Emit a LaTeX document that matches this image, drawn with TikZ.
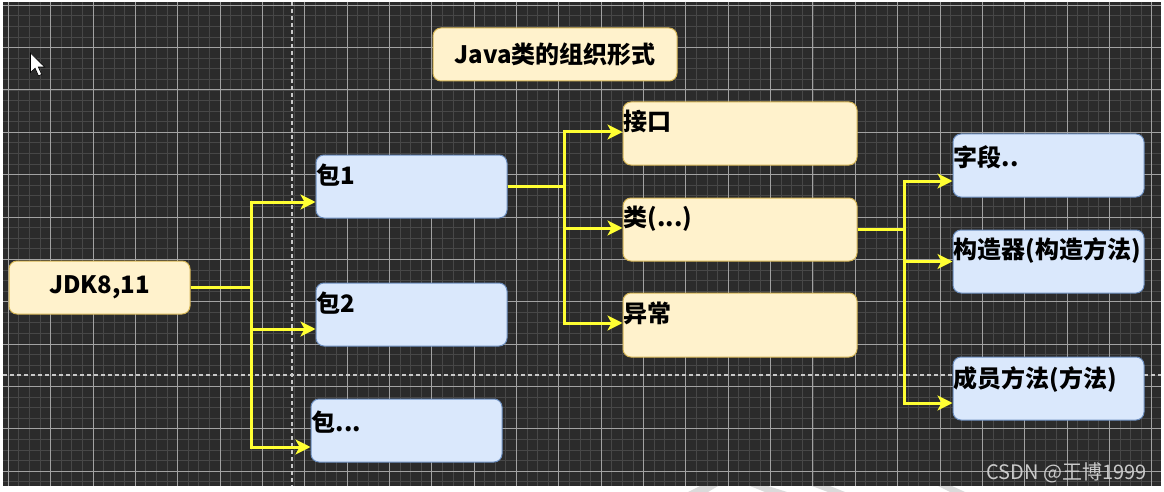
\documentclass[tikz,border=0pt]{standalone}
\usepackage{fontspec}
\setmainfont{Noto Sans CJK SC}
\usetikzlibrary{arrows.meta,calc}
\definecolor{bgc}{HTML}{2B2B2B}
\definecolor{minorc}{HTML}{474747}
\definecolor{majorc}{HTML}{A2A2A2}
\definecolor{dashc}{HTML}{C8C8C8}
\definecolor{yfill}{HTML}{FFF2CC}
\definecolor{ydraw}{HTML}{D6B656}
\definecolor{bfill}{HTML}{DAE8FC}
\definecolor{bdraw}{HTML}{6C8EBF}
\definecolor{connc}{HTML}{FFFF33}
\definecolor{wmc}{HTML}{CACACA}
\definecolor{wedgec}{HTML}{DADADA}
\begin{document}
\begin{tikzpicture}[x=1pt,y=-1pt,
  ybox/.style={draw=ydraw, fill=yfill, rounded corners=8pt, line width=1pt, inner sep=0pt},
  bbox/.style={draw=bdraw, fill=bfill, rounded corners=8pt, line width=1pt, inner sep=0pt},
  lbl/.style={anchor=west, inner sep=0pt, text=black, font=\fontsize{24pt}{28pt}\selectfont\bfseries},
  ctext/.style={inner sep=0pt, text=black, font=\fontsize{24pt}{28pt}\selectfont\bfseries},
  arr/.style={draw=connc, line width=3pt, line join=miter, -{Stealth[length=15pt,width=15pt,inset=4pt]}},
  minorl/.style={draw=minorc, line width=0.9pt},
  majorl/.style={draw=majorc, line width=1pt},
  dashl/.style={draw=dashc, line width=1.5pt, dash pattern=on 4pt off 3pt}
]
\useasboundingbox (0,0) rectangle (1164,492);
\fill[white] (0,0) rectangle (1164,492);
\fill[bgc] (3,2) rectangle (1161,486);
\begin{scope}
\clip (3,2) rectangle (1161,486);
\foreach \k [evaluate=\k as \xx using 8.3+\k*10.5875] in {0,...,109}
  \draw[minorl] (\xx,2) -- (\xx,486);
\foreach \k [evaluate=\k as \yy using 5.3+\k*10.5875] in {0,...,45}
  \draw[minorl] (3,\yy) -- (1161,\yy);
\foreach \k [evaluate=\k as \xx using 8.3+\k*42.35] in {0,...,27}
  \draw[majorl] (\xx,2) -- (\xx,486);
\foreach \k [evaluate=\k as \yy using 5.3+\k*42.35] in {0,...,11}
  \draw[majorl] (3,\yy) -- (1161,\yy);
\draw[dashl] (292,2) -- (292,486);
\draw[dashl] (3,375) -- (1161,375);
\end{scope}

% bottom wedges
\fill[wedgec] (700,486) -- (718,486) -- (708,492) -- (688,492) -- cycle;
\fill[wedgec] (750,486) -- (768,486) -- (787,492) -- (765,492) -- cycle;
\fill[wedgec] (812,486) -- (830,486) -- (845,492) -- (828,492) -- cycle;
\fill[wedgec] (938,486) -- (952,486) -- (965,492) -- (950,492) -- cycle;

% boxes
\node[ybox, minimum width=244pt, minimum height=53pt] (title) at (555,54.5) {};
\node[ybox, minimum width=181pt, minimum height=53pt] (jdk) at (99.5,287.5) {};
\node[bbox, minimum width=191pt, minimum height=63pt] (b1) at (411.5,186.5) {};
\node[bbox, minimum width=191pt, minimum height=63pt] (b2) at (411.5,314.5) {};
\node[bbox, minimum width=191pt, minimum height=63pt] (b3) at (406.5,430.5) {};
\node[ybox, minimum width=234pt, minimum height=63pt] (itf) at (740,133.5) {};
\node[ybox, minimum width=234pt, minimum height=63pt] (cls) at (740,229.5) {};
\node[ybox, minimum width=234pt, minimum height=64pt] (exc) at (740,325) {};
\node[bbox, minimum width=191pt, minimum height=63pt] (fld) at (1048.5,165.5) {};
\node[bbox, minimum width=191pt, minimum height=63pt] (ctor) at (1048.5,261.5) {};
\node[bbox, minimum width=191pt, minimum height=63pt] (mth) at (1048.5,388.5) {};

% junctions
\coordinate (j1) at (251,287.5);
\coordinate (j2) at (564,186.5);
\coordinate (j3) at (904,229.5);

% connectors
\draw[arr] (jdk.east) -- (j1) |- ([yshift=-15.5pt]b1.west);
\draw[arr] (jdk.east) -- (j1) |- ([yshift=-14.5pt]b2.west);
\draw[arr] (jdk.east) -- (j1) |- ([yshift=-16.5pt]b3.west);
\draw[arr] (b1.east) -- (j2) |- ([yshift=1.5pt]itf.west);
\draw[arr] (b1.east) -- (j2) |- ([yshift=1.5pt]cls.west);
\draw[arr] (b1.east) -- (j2) |- ([yshift=2pt]exc.west);
\draw[arr] (cls.east) -- (j3) |- ([yshift=-15.5pt]fld.west);
\draw[arr] (cls.east) -- (j3) |- (ctor.west);
\draw[arr] (cls.east) -- (j3) |- ([yshift=-14.5pt]mth.west);

% texts
\node[ctext] (tt) at (title.center) {Java类的组织形式};
\node[ctext] (jt) at (jdk.center) {JDK8,11};
\node[lbl] (t1) at ($(b1.north west)+(1,21)$) {包1};
\node[lbl] (t2) at ($(b2.north west)+(1,21)$) {包2};
\node[lbl] (t3) at ($(b3.north west)+(1,24)$) {包...};
\node[lbl] (t4) at ($(itf.north west)+(1,20)$) {接口};
\node[lbl] (t5) at ($(cls.north west)+(1,21)$) {类(...)};
\node[lbl] (t6) at ($(exc.north west)+(1,21)$) {异常};
\node[lbl] (t7) at ($(fld.north west)+(1,24)$) {字段..};
\node[lbl] (t8) at ($(ctor.north west)+(1,21)$) {构造器(构造方法)};
\node[lbl] (t9) at ($(mth.north west)+(1,23)$) {成员方法(方法)};

% mouse cursor
\filldraw[fill=white, draw=black, line width=0.6pt]
  (30.5,53) -- ++(0,19.5) -- ++(4.6,-4.3) -- ++(3.4,7.6) -- ++(3.2,-1.4) -- ++(-3.4,-7.4) -- ++(6.4,0) -- cycle;

% watermark
\node[anchor=east, inner sep=0pt, text=wmc, font=\fontsize{20pt}{24pt}\selectfont] (wm) at (1147,472.5) {CSDN @王博1999};
\end{tikzpicture}
\end{document}
